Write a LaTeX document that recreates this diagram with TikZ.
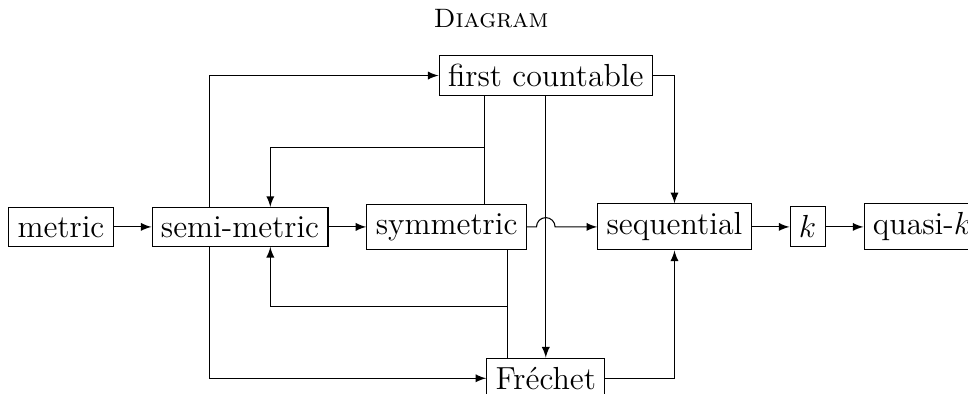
\documentclass[tikz,border=0pt]{standalone}
\usepackage{fontspec}
\usepackage{tikz}
\usetikzlibrary{positioning}
\tikzset{
  block/.style={rectangle, draw, font=\large},
  arrow/.style={->,>=latex}
}

\begin{document}
\begin{tikzpicture}[node distance=2cm]
  \useasboundingbox (-22.9pt,-62.8pt) rectangle (341pt,85.3pt);
  % Title
  \node (title) [anchor=base] at (161.7pt,74.8pt) {\textsc{Diagram}};

  % Nodes
  \node (metric) [block] at (0,0) {metric};
  \node (semi) [block, right=0.5cm of metric] {semi-metric};
  \node (sym) [block, right=0.5cm of semi] {symmetric};
  \node (seq) [block, right=0.93cm of sym] {sequential};
  \node (k) [block, right=0.5cm of seq] {$k$};
  \node (quasi) [block, right=0.5cm of k] {quasi-$k$};
  \coordinate (hop) at ([xshift=0.25cm]sym.east);
  \node (fc) [block, above of=hop] {first countable};
  \node (frechet) [block, below of=hop] {Fréchet};

  % Arrows
  \draw [arrow] (metric) -- (semi);
  \draw [arrow] (semi) -- (sym);
  \draw [arrow] (sym) -- ([xshift=-3.5pt]hop) arc (180:0:3.5pt) -- (seq);
  \draw [arrow] (seq) -- (k);
  \draw [arrow] (k) -- (quasi);
  \draw [arrow] ([xshift=-0.4cm]semi.north) |- (fc);
  \draw [arrow] ([xshift=-0.4cm]semi.south) |- (frechet);
  \draw [arrow] (fc) -| (seq);
  \draw [arrow] (frechet) -| (seq);
  \draw [arrow] (fc) -- (frechet);

  % Joined lines back to semi-metric
  \coordinate (up) at ([xshift=0.5cm, yshift=0.75cm]sym.north);
  \coordinate (down) at ([xshift=0.8cm, yshift=-0.75cm]sym.south);
  \draw ([xshift=0.5cm]sym.north) -- ([xshift=0.5cm]sym.north |- fc.south);
  \draw [arrow] (up) -| ([xshift=0.4cm]semi.north);
  \draw ([xshift=0.8cm]sym.south) -- ([xshift=0.8cm]sym.south |- frechet.north);
  \draw [arrow] (down) -| ([xshift=0.4cm]semi.south);
\end{tikzpicture}
\end{document}
